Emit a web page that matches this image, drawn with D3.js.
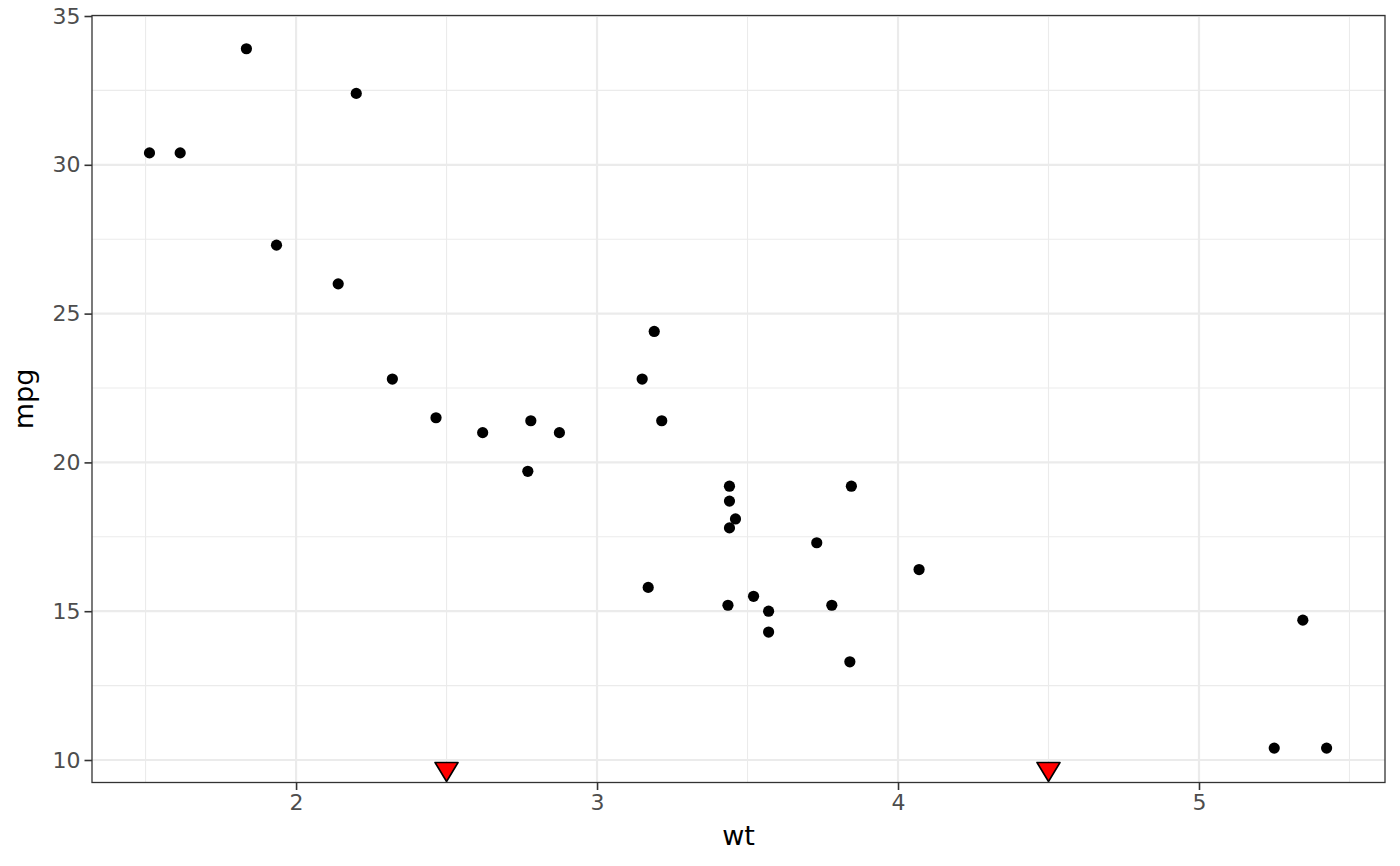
<!DOCTYPE html>
<html>
<head>
<meta charset="utf-8">
<script src="https://cdn.jsdelivr.net/npm/d3@7"></script>
<style>
  body { margin: 0; background: #fff; }
  text { font-family: "DejaVu Sans", sans-serif; }
</style>
</head>
<body>
<div id="chart"></div>
<script>
// mtcars: weight (1000 lbs) and miles per gallon
var wt  = [2.620, 2.875, 2.320, 3.215, 3.440, 3.460, 3.570, 3.190, 3.150, 3.440, 3.440,
           4.070, 3.730, 3.780, 5.250, 5.424, 5.345, 2.200, 1.615, 1.835, 2.465, 3.520,
           3.435, 3.840, 3.845, 1.935, 2.140, 1.513, 3.170, 2.770, 3.570, 2.780];
var mpg = [21.0, 21.0, 22.8, 21.4, 18.7, 18.1, 14.3, 24.4, 22.8, 19.2, 17.8,
           16.4, 17.3, 15.2, 10.4, 10.4, 14.7, 32.4, 30.4, 33.9, 21.5, 15.5,
           15.2, 13.3, 19.2, 27.3, 26.0, 30.4, 15.8, 19.7, 15.0, 21.4];
// red markers along the bottom of the panel
var markers = [2.5, 4.5];

var xTicks = [2, 3, 4, 5];
var xMinor = [1.5, 2.5, 3.5, 4.5, 5.5];
var yTicks = [10, 15, 20, 25, 30, 35];
var yMinor = [12.5, 17.5, 22.5, 27.5, 32.5];

var width = 1400, height = 866;
var panel = {left: 92, right: 1385, top: 15.5, bottom: 782.5};

var svg = d3.select("#chart").append("svg")
    .attr("width", width)
    .attr("height", height);

var x = d3.scaleLinear()
    .domain([1.322, 5.618])
    .range([panel.left, panel.right]);

var y = d3.scaleLinear()
    .domain([9.244, 35.017])
    .range([panel.bottom, panel.top]);

// minor grid
svg.append("g").selectAll("line")
  .data(xMinor).enter().append("line")
    .attr("x1", function(d){ return x(d); })
    .attr("x2", function(d){ return x(d); })
    .attr("y1", panel.top).attr("y2", panel.bottom)
    .attr("stroke", "#ebebeb").attr("stroke-width", 1.1);
svg.append("g").selectAll("line")
  .data(yMinor).enter().append("line")
    .attr("y1", function(d){ return y(d); })
    .attr("y2", function(d){ return y(d); })
    .attr("x1", panel.left).attr("x2", panel.right)
    .attr("stroke", "#ebebeb").attr("stroke-width", 1.1);

// major grid
svg.append("g").selectAll("line")
  .data(xTicks).enter().append("line")
    .attr("x1", function(d){ return x(d); })
    .attr("x2", function(d){ return x(d); })
    .attr("y1", panel.top).attr("y2", panel.bottom)
    .attr("stroke", "#ebebeb").attr("stroke-width", 2.2);
svg.append("g").selectAll("line")
  .data(yTicks).enter().append("line")
    .attr("y1", function(d){ return y(d); })
    .attr("y2", function(d){ return y(d); })
    .attr("x1", panel.left).attr("x2", panel.right)
    .attr("stroke", "#ebebeb").attr("stroke-width", 2.2);

// points
svg.append("g").selectAll("circle")
  .data(wt.map(function(d, i){ return {wt: d, mpg: mpg[i]}; }))
  .enter().append("circle")
    .attr("cx", function(d){ return x(d.wt); })
    .attr("cy", function(d){ return y(d.mpg); })
    .attr("r", 5.6)
    .attr("fill", "#000");

// downward triangles, tip on the panel bottom
var tw = 11.5, th = 19;
svg.append("g").selectAll("path")
  .data(markers).enter().append("path")
    .attr("d", function(d){
      var cx = x(d), b = panel.bottom - 1;
      return "M" + (cx - tw) + "," + (b - th) + "L" + (cx + tw) + "," + (b - th) +
             "L" + cx + "," + b + "Z";
    })
    .attr("fill", "#ff0000")
    .attr("stroke", "#000")
    .attr("stroke-width", 1.6)
    .attr("stroke-linejoin", "round");

// panel border
svg.append("rect")
    .attr("x", panel.left).attr("y", panel.top)
    .attr("width", panel.right - panel.left)
    .attr("height", panel.bottom - panel.top)
    .attr("fill", "none")
    .attr("stroke", "#333333")
    .attr("stroke-width", 1.3);

// axes
var gx = svg.append("g")
    .attr("transform", "translate(0," + panel.bottom + ")")
    .call(d3.axisBottom(x).tickValues(xTicks).tickSize(7.5).tickPadding(4).tickFormat(d3.format("d")));
var gy = svg.append("g")
    .attr("transform", "translate(" + panel.left + ",0)")
    .call(d3.axisLeft(y).tickValues(yTicks).tickSize(7.5).tickPadding(4).tickFormat(d3.format("d")));

[gx, gy].forEach(function(g){
  g.select(".domain").remove();
  g.selectAll(".tick line").attr("stroke", "#333333").attr("stroke-width", 1.6);
  g.selectAll(".tick text")
    .attr("fill", "#4d4d4d")
    .style("font-size", "22px")
    .style("font-family", "'DejaVu Sans', sans-serif");
});

// axis titles
svg.append("text")
    .attr("x", (panel.left + panel.right) / 2)
    .attr("y", 845)
    .attr("text-anchor", "middle")
    .style("font-size", "27px")
    .text("wt");
svg.append("text")
    .attr("transform", "translate(33," + (panel.top + panel.bottom) / 2 + ") rotate(-90)")
    .attr("text-anchor", "middle")
    .style("font-size", "27px")
    .text("mpg");
</script>
</body>
</html>
